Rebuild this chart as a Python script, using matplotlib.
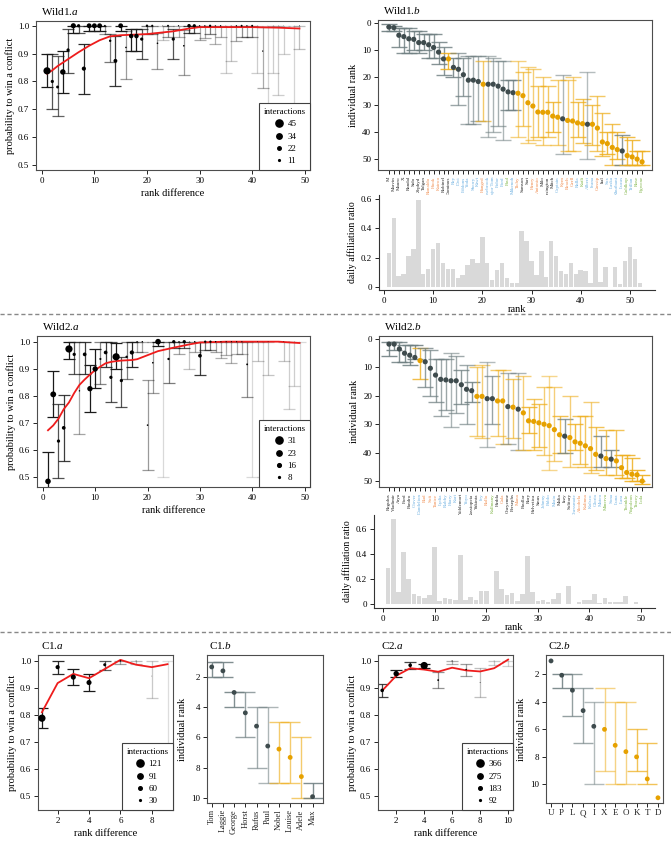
import matplotlib.pyplot as plt
import numpy as np
from matplotlib.lines import Line2D

plt.rcParams['font.family'] = ['Liberation Serif', 'DejaVu Serif']
plt.rcParams['mathtext.fontset'] = 'custom'
plt.rcParams['mathtext.rm'] = 'Liberation Serif'
plt.rcParams['mathtext.it'] = 'Liberation Serif:italic'

W, H = 671, 844

# ---------------- Wild1 ----------------
w1a_diff = [1, 2, 3, 4, 5, 6, 7, 8, 9, 10, 11, 12, 13, 14, 15, 16, 17, 18, 19, 20, 21, 22, 23, 24,
            25, 26, 27, 28, 29, 30, 31, 32, 33, 34, 35, 36, 37, 38, 39, 40, 41, 42, 43, 44, 45, 46, 48, 49]
w1a_prob = [0.838, 0.800, 0.780, 0.834, 0.913, 1.0, 1.0, 0.846, 1.0, 1.0, 1.0, 1.0, 0.946, 0.874, 1.0, 0.922,
            0.963, 0.963, 0.952, 1.0, 1.0, 0.937, 1.0, 1.0, 0.952, 1.0, 0.928, 1.0, 1.0, 1.0, 1.0, 1.0,
            1.0, 1.0, 1.0, 1.0, 1.0, 1.0, 1.0, 1.0, 1.0, 0.909, 1.0, 1.0, 1.0, 1.0, 1.0, 1.0]
w1a_lo = [0.780, 0.700, 0.675, 0.757, 0.832, 0.975, 0.975, 0.755, 0.980, 0.980, 0.980, 0.970, 0.868, 0.785,
          0.980, 0.810, 0.910, 0.910, 0.882, 0.970, 0.970, 0.845, 0.950, 0.960, 0.882, 0.960, 0.822, 0.975,
          0.975, 0.950, 0.955, 0.970, 0.935, 0.960, 0.832, 0.875, 0.945, 0.960, 0.960, 0.960, 0.830, 0.775,
          0.690, 0.830, 0.750, 0.900, 0.680, 0.915]
w1a_hi = [0.897, 0.900, 0.890, 0.908, 0.990, 1.0, 1.0, 0.935, 1.0, 1.0, 1.0, 1.0, 0.970, 0.963, 1.0, 0.980,
          0.990, 0.990, 0.990, 1.0, 1.0, 0.975, 1.0, 1.0, 0.990, 1.0, 0.985, 1.0, 1.0, 1.0, 1.0, 1.0,
          1.0, 1.0, 1.0, 1.0, 1.0, 1.0, 1.0, 1.0, 1.0, 0.995, 1.0, 1.0, 1.0, 1.0, 1.0, 1.0]
w1a_n = [45, 20, 18, 34, 20, 32, 20, 26, 30, 30, 30, 11, 15, 24, 30, 10, 28, 28, 20, 15, 13, 10, 4, 12,
         20, 8, 10, 22, 20, 8, 8, 14, 7, 8, 3, 4, 8, 12, 8, 12, 3, 8, 2, 3, 3, 3, 2, 5]
w1a_fit_x = [1, 2, 3, 5, 7, 9, 11, 13, 15, 20, 25, 28, 30, 35, 40, 45, 49]
w1a_fit_y = [0.828, 0.840, 0.855, 0.880, 0.905, 0.928, 0.948, 0.962, 0.966, 0.970, 0.980, 0.990, 0.995,
             0.995, 0.995, 0.993, 0.990]
w1a_legend = [45, 34, 22, 11]

w1b_names = ['M', 'Marvin', 'Mauro', 'X', 'Randal', 'Sido', 'Zephyd', 'Tolgan', 'Ronaldo', 'Hook',
             'Kairoo', 'Robinel', 'Dominus', 'Rey', 'Dwi', 'Eddons', 'Yoda', 'Sherry', 'Kiwi', 'Hanged',
             'Rosebrook', 'Major Tom', 'Fidor', 'Ford', 'Paul', 'Mikenoh', 'Tichy', 'Samson', 'Sari',
             'Henry', 'Antonio', 'Milo', 'Kensington', 'Mitch', 'Captain', 'Kym', 'Beach', 'Gerll',
             'Ralla', 'Katli', 'Albert', 'Ivana', 'Gossip', 'Ital', 'Sox', 'Laska', 'Khutbani', 'Lucas',
             'Goldkop', 'Trillan', 'Rose', 'Egwene']
w1b_name_cols = list('kkkkkkkkoookkbbbbbbobbbbgbokkookkkbooobgbbokbbbbgbgg')
w1b_rank = [1.5, 1.7, 4.5, 5.0, 5.8, 6.0, 7.2, 7.2, 8.0, 9.0, 10.7, 13.2, 13.2, 16.3, 17.0, 19.0, 21.0,
            21.0, 21.5, 22.5, 22.5, 22.5, 23.2, 24.3, 25.3, 25.6, 25.8, 26.7, 29.3, 30.5, 32.7, 32.8,
            32.8, 34.2, 34.6, 35.2, 35.8, 36.0, 36.7, 37.0, 37.2, 37.2, 38.6, 43.7, 44.3, 45.7, 46.5,
            47.0, 48.7, 49.2, 50.0, 51.0]
w1b_lo = [0.5, 1, 2, 2, 2, 3, 3, 4, 4, 4, 7, 9, 11, 13, 11, 13, 12, 12, 12, 14, 12, 13, 14, 14, 21, 21,
          14, 18, 16, 17, 23, 20, 23, 29, 21, 19, 21, 20, 29, 28, 18, 30, 27, 33, 40, 37, 40, 41, 42, 43,
          47, 47]
w1b_hi = [3, 3, 9, 11, 11, 10, 11, 10, 13, 13, 15, 19, 17, 20, 30, 27, 37, 37, 36, 36, 42, 40, 38, 43,
          32, 32, 42, 38, 44, 43, 42, 45, 42, 40, 45, 48, 47, 47, 42, 44, 50, 45, 47, 49, 48, 52, 50, 52,
          52, 52, 52, 52]
w1b_dot_cols = list('ddddddddddddoddddddoddddddooooooooodoooodoooooodoooo')
w1_affil = [0.23, 0.47, 0.075, 0.087, 0.21, 0.26, 0.59, 0.087, 0.123, 0.26, 0.30, 0.162, 0.123, 0.123,
            0.062, 0.082, 0.153, 0.19, 0.167, 0.342, 0.167, 0.05, 0.116, 0.167, 0.06, 0.025, 0.025,
            0.38, 0.313, 0.176, 0.082, 0.245, 0.07, 0.313, 0.21, 0.112, 0.087, 0.167, 0.087, 0.115,
            0.11, 0.025, 0.265, 0.037, 0.137, 0.0, 0.137, 0.022, 0.176, 0.27, 0.19, 0.028]

# ---------------- Wild2 ----------------
w2a_diff = [1, 2, 3, 4, 5, 6, 7, 8, 9, 10, 11, 12, 13, 14, 15, 16, 17, 18, 19, 20, 21, 22, 23, 24, 25,
            26, 27, 28, 29, 30, 31, 32, 33, 34, 35, 36, 37, 38, 39, 40, 41, 42, 43, 46, 47, 48, 49]
w2a_prob = [0.483, 0.805, 0.632, 0.681, 0.973, 0.953, 0.818, 0.953, 0.826, 0.899, 0.936, 0.960, 0.868,
            0.944, 0.856, 0.944, 0.960, 1.0, 1.0, 0.691, 0.922, 1.0, 1.0, 0.936, 1.0, 1.0, 1.0, 1.0, 1.0,
            0.948, 1.0, 1.0, 1.0, 1.0, 1.0, 1.0, 1.0, 1.0, 0.916, 1.0, 1.0, 1.0, 1.0, 1.0, 1.0, 1.0, 1.0]
w2a_lo = [0.38, 0.721, 0.495, 0.560, 0.937, 0.882, 0.657, 0.882, 0.740, 0.828, 0.845, 0.905, 0.778,
          0.898, 0.758, 0.862, 0.905, 0.960, 0.960, 0.525, 0.810, 0.985, 0.50, 0.847, 0.975, 0.955,
          0.975, 0.900, 0.960, 0.878, 0.970, 0.970, 0.960, 0.940, 0.950, 0.920, 0.955, 0.955, 0.795,
          0.50, 0.930, 0.50, 0.875, 0.930, 0.750, 0.835, 0.50]
w2a_hi = [0.593, 0.893, 0.770, 0.803, 1.0, 1.0, 1.0, 1.0, 0.915, 0.972, 1.0, 1.0, 1.0, 0.995, 0.945, 1.0,
          1.0, 1.0, 1.0, 0.858, 1.0, 1.0, 1.0, 1.0, 1.0, 1.0, 1.0, 1.0, 1.0, 1.0, 1.0, 1.0, 1.0, 1.0, 1.0,
          1.0, 1.0, 1.0, 1.0, 1.0, 1.0, 1.0, 1.0, 1.0, 1.0, 1.0, 1.0]
w2a_n = [24, 25, 14, 16, 31, 14, 6, 16, 23, 23, 9, 16, 14, 31, 14, 10, 18, 6, 6, 7, 7, 24, 1, 10, 14, 6,
         14, 3, 6, 16, 10, 10, 6, 5, 5, 5, 5, 5, 8, 1, 3, 1, 3, 3, 2, 2, 1]
w2a_fit_x = [1, 2, 3, 4, 5, 6, 7, 8, 9, 10, 11, 12, 13, 14, 15, 17, 18, 20, 22, 25, 28, 30, 35, 40, 45, 49]
w2a_fit_y = [0.672, 0.690, 0.715, 0.750, 0.775, 0.810, 0.840, 0.860, 0.878, 0.895, 0.908, 0.920, 0.925,
             0.928, 0.930, 0.932, 0.935, 0.950, 0.965, 0.978, 0.990, 0.997, 1.0, 1.0, 1.0, 0.995]
w2a_legend = [31, 23, 16, 8]

w2b_names = ['Regulus', 'Vladimir', 'Arya', 'Ford', 'Pandro', 'Clover', 'Dandelion', 'Bud', 'Sofi',
             'Tanice', 'Lydia', 'Rubby', 'Harry', 'Kari', 'Voldemort', 'Yoyo', 'Kassiopeia', 'Yakinta',
             'Ivy', 'Rollo', 'Kallmany', 'Hedda', 'Gala', 'Cheyenne', 'Persephs', 'Muna', 'Paullar',
             'Rory', 'Helvetica', 'Sinus', 'Johnny', 'Pablo', 'Mario', 'Malia', 'Izzy', 'Solitary',
             'Chessmate', 'Alcohela', 'Kalinna', 'Kolsco', 'Gloria', 'Mateo', 'Minerva', 'Sona', 'Luna',
             'Lara', 'Twinkle', 'Napoleon', 'Tracey', 'Lola']
w2b_name_cols = list('kkkkkbbooobbbbkbkkbogkokkokkkkbbbkkkboobbbgbbbgggg')
w2b_rank = [1.8, 1.8, 3.5, 5.0, 5.7, 6.5, 7.6, 8.0, 10.3, 12.7, 14.2, 14.4, 14.7, 14.7, 16.1, 17.7, 18.2,
            20.2, 20.2, 21.0, 21.0, 21.8, 21.8, 23.8, 24.0, 24.7, 26.0, 28.8, 29.0, 29.5, 30.0, 30.5,
            31.9, 33.7, 34.2, 34.7, 36.2, 36.7, 37.6, 38.6, 40.6, 41.2, 42.1, 42.3, 42.9, 45.3, 47.0,
            47.6, 47.8, 50.0]
w2b_lo = [1, 1, 1, 2, 2, 2, 3, 3, 4, 7, 7, 7, 5, 6, 11, 9, 15, 10, 9, 8, 13, 11, 11, 12, 14, 12, 13, 24,
          21, 23, 17, 13, 17, 27, 28, 20, 30, 27, 27, 22, 31, 34, 32, 39, 32, 41, 41, 42, 46, 48]
w2b_hi = [6, 4, 8, 8, 9, 7, 14, 17, 20, 22, 27, 25, 31, 26, 23, 30, 22, 34, 35, 38, 30, 34, 37, 37, 35,
          39, 39, 33, 39, 38, 41, 46, 43, 40, 40, 45, 39, 44, 45, 47, 46, 45, 48, 45, 48, 49, 49, 50,
          50, 51]
w2b_dot_cols = list('ddddddoddddddddddooddoododoooooooodoooooododoooooo')
w2_affil = [0.285, 0.675, 0.099, 0.415, 0.2, 0.078, 0.062, 0.052, 0.075, 0.452, 0.026, 0.047, 0.039,
            0.031, 0.39, 0.036, 0.055, 0.036, 0.107, 0.107, 0.0, 0.26, 0.117, 0.075, 0.086, 0.026,
            0.078, 0.382, 0.096, 0.026, 0.031, 0.016, 0.042, 0.088, 0.0, 0.145, 0.0, 0.016, 0.034,
            0.034, 0.083, 0.013, 0.049, 0.016, 0.018, 0.016, 0.062, 0.0, 0.018, 0.0]

# ---------------- C1 / C2 ----------------
c1a_diff = [1, 2, 3, 4, 5, 6, 7, 8, 9]
c1a_prob = [0.788, 0.977, 0.940, 0.920, 0.986, 1.0, 1.0, 0.944, 1.0]
c1a_lo = [0.752, 0.953, 0.910, 0.888, 0.965, 0.990, 0.990, 0.862, 0.55]
c1a_hi = [0.825, 1.0, 0.972, 0.952, 1.0, 1.0, 1.0, 1.0, 1.0]
c1a_n = [121, 70, 85, 85, 50, 25, 15, 10, 2]
c1a_fit_y = [0.810, 0.918, 0.952, 0.936, 0.970, 1.004, 0.986, 0.977, 0.988]
c1a_legend = [121, 91, 60, 30]

c1b_names = ['Tom', 'Laggie', 'George', 'Horst', 'Rufus', 'Paul', 'Nobel', 'Louise', 'Adele', 'Max']
c1b_rank = [1.34, 1.6, 3.03, 4.38, 5.26, 6.58, 6.78, 7.33, 8.6, 9.93]
c1b_lo = [1, 1, 3, 3, 4, 4, 5, 5, 6, 9]
c1b_hi = [2, 2, 4, 6, 8, 9, 9, 9, 10, 10]
c1b_dot_cols = list('ddddddoood')

c2a_diff = [1, 2, 3, 4, 5, 6, 7, 8, 9, 10]
c2a_prob = [0.891, 0.953, 0.984, 0.983, 0.929, 1.0, 0.968, 0.920, 1.0, 1.0]
c2a_lo = [0.866, 0.940, 0.970, 0.975, 0.898, 0.990, 0.945, 0.866, 0.985, 0.980]
c2a_hi = [0.914, 0.967, 0.997, 0.990, 0.960, 1.0, 0.990, 0.975, 1.0, 1.0]
c2a_n = [183, 275, 183, 366, 92, 60, 80, 40, 30, 20]
c2a_fit_y = [0.890, 0.945, 0.973, 0.968, 0.960, 0.975, 0.965, 0.961, 0.973, 1.005]
c2a_legend = [366, 275, 183, 92]

c2b_names = ['U', 'P', 'L', 'Q', 'I', 'X', 'E', 'O', 'K', 'T', 'D']
c2b_rank = [1.03, 2.07, 3.16, 4.64, 5.78, 6.0, 7.16, 7.62, 8.0, 9.6, 10.97]
c2b_lo = [1.03, 2, 2, 3, 4, 3, 4, 4, 6, 7, 10.97]
c2b_hi = [1.03, 3, 5, 7, 10, 9, 10, 10, 9, 10, 10.97]
c2b_dot_cols = list('dddddoooooo')

DOT = {'d': '#3e4b4d', 'o': '#e6a100'}
BAR = {'d': '#6f7f81', 'o': '#eeae1c'}
NAME = {'k': '#222222', 'o': '#f08a4b', 'b': '#6aaee0', 'g': '#7cb342'}
FS_TICK = 6.5
FS_LAB = 7.5

fig = plt.figure(figsize=(W / 100, H / 100), dpi=100)


def px_axes(l, t, r, b):
    return fig.add_axes([l / W, 1 - b / H, (r - l) / W, (b - t) / H])


def panel_title(ax, name, letter):
    ax.text(0.02, 1.025, name + '.$\\mathit{' + letter + '}$', transform=ax.transAxes,
            fontsize=8, ha='left', va='bottom')


def style_box(ax):
    for s in ax.spines.values():
        s.set_color('0.3')
        s.set_linewidth(0.8)
    ax.tick_params(labelsize=FS_TICK, length=3, width=0.6, pad=2)


def win_panel(ax, x, p, lo, hi, n, fx, fy, leg, xlim, ylim, xticks):
    nmax = leg[0]
    for xi, pi, l, h, ni in zip(x, p, lo, hi, n):
        a = 0.12 + 0.88 * min(1, 1.6 * ni / nmax)
        ax.errorbar(xi, pi, yerr=[[pi - l], [h - pi]], fmt='none', ecolor='#1a1a1a', alpha=a,
                    capsize=4.5, elinewidth=0.9, capthick=0.9, zorder=2)
    ax.plot(fx, fy, color='#ee1c1c', lw=1.3, zorder=3)
    d = 5.2 * np.array(n) / nmax
    ax.scatter(x, p, s=d ** 2, color='black', lw=0, zorder=4)
    handles = [Line2D([], [], marker='o', ls='', color='black', markersize=5.2 * v / nmax) for v in leg]
    lg = ax.legend(handles, [str(v) for v in leg], title='interactions', loc='lower right',
                   bbox_to_anchor=(1, 0), borderaxespad=0, fancybox=False, framealpha=1,
                   edgecolor='0.25', fontsize=FS_TICK, title_fontsize=FS_TICK, labelspacing=0.45,
                   handletextpad=0.2, borderpad=0.5, handlelength=1.5)
    lg.get_frame().set_linewidth(0.8)
    lg.set_zorder(10)
    ax.set_xlim(*xlim)
    ax.set_ylim(*ylim)
    ax.set_xticks(xticks)
    ax.set_yticks([0.5, 0.6, 0.7, 0.8, 0.9, 1.0])
    ax.set_yticklabels(['%.1f' % v for v in [0.5, 0.6, 0.7, 0.8, 0.9, 1.0]])
    ax.set_xlabel('rank difference', fontsize=FS_LAB, labelpad=3)
    ax.set_ylabel('probability to win a conflict', fontsize=FS_LAB, labelpad=2)
    style_box(ax)


def rank_panel(ax, names, name_cols, rank, lo, hi, dot_cols, xlim, ylim, yticks, name_fs, capsize, dot_s):
    xs = np.arange(1, len(names) + 1)
    for xi, r, l, h, c in zip(xs, rank, lo, hi, dot_cols):
        if h - l <= 0:
            continue
        a = 0.95 - 0.45 * min(1, (h - l) / (0.6 * (ylim[0] - ylim[1])))
        ax.errorbar(xi, r, yerr=[[r - l], [h - r]], fmt='none', ecolor=BAR[c], alpha=a,
                    capsize=capsize, elinewidth=1.0, capthick=1.0, zorder=2)
    ax.scatter(xs, rank, c=[DOT[c] for c in dot_cols], s=dot_s, lw=0, zorder=3)
    ax.set_xticks(xs)
    ax.set_xticklabels(names, rotation=90, fontsize=name_fs)
    for lab, c in zip(ax.get_xticklabels(), name_cols):
        lab.set_color(NAME[c])
    ax.set_xlim(*xlim)
    ax.set_ylim(*ylim)
    ax.set_yticks(yticks)
    ax.set_ylabel('individual rank', fontsize=FS_LAB, labelpad=3)
    style_box(ax)
    ax.tick_params(axis='x', labelsize=name_fs, length=3, pad=1.5)


def bar_panel(ax, vals, xlim, ylim):
    xs = np.arange(1, len(vals) + 1)
    ax.bar(xs, vals, width=0.9, color='#d9d9d9', lw=0)
    ax.set_xlim(*xlim)
    ax.set_ylim(*ylim)
    ax.set_xticks([0, 10, 20, 30, 40, 50])
    ax.set_yticks([0, 0.2, 0.4, 0.6])
    ax.set_yticklabels(['0', '0.2', '0.4', '0.6'])
    ax.spines['top'].set_visible(False)
    ax.spines['right'].set_visible(False)
    for s in ['left', 'bottom']:
        ax.spines[s].set_linewidth(0.8)
        ax.spines[s].set_color('0.2')
    ax.tick_params(labelsize=FS_TICK, length=3, width=0.6, pad=2)
    ax.set_xlabel('rank', fontsize=FS_LAB, labelpad=0)
    ax.set_ylabel('daily affiliation ratio', fontsize=FS_LAB - 0.5, labelpad=3)


# Wild1
ax = px_axes(36, 21, 310, 170)
win_panel(ax, w1a_diff, w1a_prob, w1a_lo, w1a_hi, w1a_n, w1a_fit_x, w1a_fit_y, w1a_legend,
          (-1.1, 51), (0.482, 1.017), [0, 10, 20, 30, 40, 50])
panel_title(ax, 'Wild1', 'a')

ax = px_axes(378, 20, 652, 170)
rank_panel(ax, w1b_names, w1b_name_cols, w1b_rank, w1b_lo, w1b_hi, w1b_dot_cols,
           (-1.2, 54), (54, -1.1), [0, 10, 20, 30, 40, 50], 3.6, 5.5, 14)
panel_title(ax, 'Wild1', 'b')

ax = px_axes(379, 195, 655, 290)
bar_panel(ax, w1_affil, (-1.0, 55.1), (-0.02, 0.627))

# Wild2
ax = px_axes(37, 336, 310, 487)
win_panel(ax, w2a_diff, w2a_prob, w2a_lo, w2a_hi, w2a_n, w2a_fit_x, w2a_fit_y, w2a_legend,
          (-1.1, 51), (0.462, 1.021), [0, 10, 20, 30, 40, 50])
panel_title(ax, 'Wild2', 'a')

ax = px_axes(379, 336, 652, 487)
rank_panel(ax, w2b_names, w2b_name_cols, w2b_rank, w2b_lo, w2b_hi, w2b_dot_cols,
           (-0.94, 51.9), (52.1, -1.06), [0, 10, 20, 30, 40, 50], 3.6, 5.5, 14)
panel_title(ax, 'Wild2', 'b')

ax = px_axes(374, 515, 655, 608)
bar_panel(ax, w2_affil, (-1.74, 52.7), (-0.03, 0.707))

# C1
ax = px_axes(38, 655, 173, 810)
win_panel(ax, c1a_diff, c1a_prob, c1a_lo, c1a_hi, c1a_n, c1a_diff, c1a_fit_y, c1a_legend,
          (0.75, 9.35), (0.448, 1.022), [2, 4, 6, 8])
panel_title(ax, 'C1', 'a')

ax = px_axes(207, 655, 323, 803)
rank_panel(ax, c1b_names, ['k'] * 10, c1b_rank, c1b_lo, c1b_hi, c1b_dot_cols,
           (0.58, 10.93), (10.35, 0.55), [2, 4, 6, 8, 10], 6, 7, 12)
panel_title(ax, 'C1', 'b')

# C2
ax = px_axes(378, 655, 513, 810)
win_panel(ax, c2a_diff, c2a_prob, c2a_lo, c2a_hi, c2a_n, c2a_diff, c2a_fit_y, c2a_legend,
          (0.7, 10.35), (0.448, 1.022), [2, 4, 6, 8, 10])
panel_title(ax, 'C2', 'a')

ax = px_axes(546, 655, 663, 803)
rank_panel(ax, c2b_names, ['k'] * 11, c2b_rank, c2b_lo, c2b_hi, c2b_dot_cols,
           (0.53, 11.47), (11.35, 0.6), [2, 4, 6, 8, 10], 6.5, 7, 12)
ax.tick_params(axis='x', rotation=0)
panel_title(ax, 'C2', 'b')

# dashed separators between the groups
for yp in [314, 632]:
    fig.add_artist(Line2D([0.0, 1.0], [1 - yp / H, 1 - yp / H], transform=fig.transFigure,
                          color='#888888', lw=1.0, dashes=(3, 2)))

fig.savefig('out.png', dpi=100, facecolor='white')
